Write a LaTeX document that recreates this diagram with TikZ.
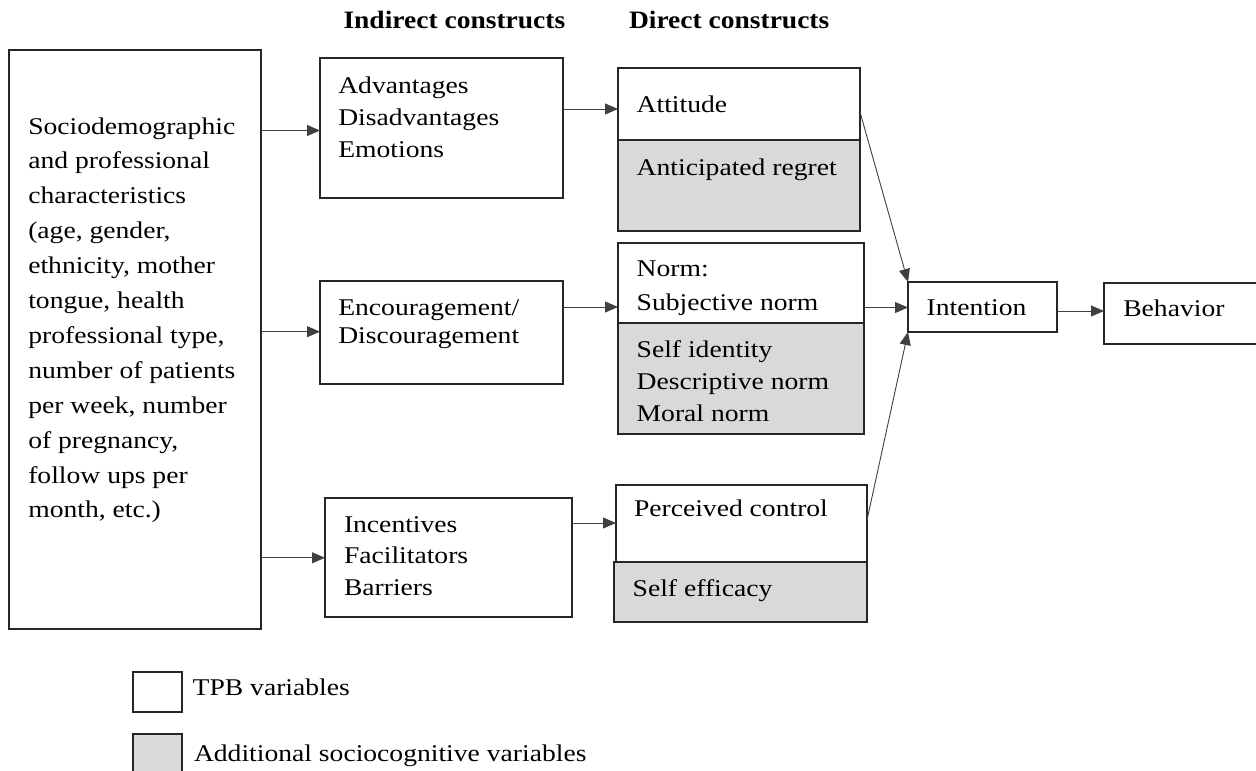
\documentclass[tikz,border=0pt]{standalone}
\usepackage{fontspec}
\setmainfont[FakeStretch=1.15]{Liberation Serif}
\newfontfamily\hdrfont[FakeStretch=1.1]{Liberation Serif}
\usetikzlibrary{arrows.meta}
\definecolor{boxgray}{HTML}{D9D9D9}
\tikzset{
  box/.style={draw=black!85, line width=1.5pt, inner sep=0pt, outer sep=0pt, anchor=north west},
  graybox/.style={box, fill=boxgray},
  txt/.style={inner sep=0pt, outer sep=0pt, align=left, anchor=north west},
  lbl/.style={inner sep=0pt, outer sep=0pt, anchor=base west},
  hdr/.style={lbl, font=\hdrfont\fontsize{25}{30}\selectfont\bfseries},
  arr/.style={draw=black!75, line width=0.9pt, -{Triangle[length=13pt,width=11pt]}},
}
\newcommand{\fs}[1]{\fontsize{24}{#1}\selectfont}
\begin{document}
\begin{tikzpicture}[x=1pt,y=-1pt,font=\fs{27.6}]
\path[use as bounding box] (0,0) rectangle (1256,771);
\clip (0,0) rectangle (1256,771);
% headers
\node[hdr] (h1) at (343.5,28) {Indirect constructs};
\node[hdr] (h2) at (629,28) {Direct constructs};
% boxes
\node[box, minimum width=252, minimum height=579] (socio) at (9,50) {};
\node[box, minimum width=243, minimum height=140] (adv) at (320,58) {};
\node[box, minimum width=243, minimum height=103] (enc) at (320,281) {};
\node[box, minimum width=247, minimum height=119] (inc) at (325,498) {};
\node[box, minimum width=242, minimum height=72] (att) at (618,68) {};
\node[graybox, minimum width=242, minimum height=91] (reg) at (618,140) {};
\node[box, minimum width=246, minimum height=80] (norm) at (618,243) {};
\node[graybox, minimum width=246, minimum height=111] (snorm) at (618,323) {};
\node[box, minimum width=251, minimum height=77] (pc) at (616,485) {};
\node[graybox, minimum width=253, minimum height=60] (se) at (614,562) {};
\node[box, minimum width=149, minimum height=50] (int) at (908,282) {};
\node[box, minimum width=158, minimum height=61] (beh) at (1104,283) {};
\node[box, minimum width=49, minimum height=40] (leg1) at (133,672) {};
\node[graybox, minimum width=49, minimum height=46] (leg2) at (133,734) {};
% texts
\node[txt,font=\fs{34.9}] (tsocio) at (28.3,109.6) {\strut Sociodemographic\\and professional\\characteristics\\(age, gender,\\ethnicity, mother\\tongue, health\\professional type,\\number of patients\\per week, number\\of pregnancy,\\follow ups per\\month, etc.)};
\node[txt,font=\fs{32}] (tadv) at (338.3,70.9) {\strut Advantages\\Disadvantages\\Emotions};
\node[txt,font=\fs{28.3}] (tenc) at (338.3,295.2) {\strut Encouragement/\\Discouragement};
\node[txt,font=\fs{31.2}] (tinc) at (344,510.9) {\strut Incentives\\Facilitators\\Barriers};
\node[lbl] (tatt) at (636.7,112) {Attitude};
\node[lbl] (treg) at (636.7,175) {Anticipated regret};
\node[txt,font=\fs{34}] (tnorm) at (636.7,252.9) {\strut Norm:\\Subjective norm};
\node[txt,font=\fs{31.85}] (tsnorm) at (636.7,335.7) {\strut Self identity\\Descriptive norm\\Moral norm};
\node[lbl] (tpc) at (634,516.7) {Perceived control};
\node[lbl] (tse) at (632.7,596) {Self efficacy};
\node[lbl] (tint) at (926.7,315) {Intention};
\node[lbl] (tbeh) at (1123.3,316) {Behavior};
\node[lbl] (tleg1) at (192.7,695) {TPB variables};
\node[lbl] (tleg2) at (194,761.7) {Additional sociocognitive variables};
% connectors
\draw[arr] (socio.east |- 0,130.5) -- (adv.west |- 0,130.5);
\draw[arr] (socio.east |- 0,331.7) -- (enc.west |- 0,331.7);
\draw[arr] (socio.east |- 0,557.8) -- (inc.west |- 0,557.8);
\draw[arr] (adv.east |- 0,109) -- (att.west |- 0,109);
\draw[arr] (enc.east |- 0,307) -- (norm.west |- 0,307);
\draw[arr] (inc.east |- 0,523) -- (pc.west |- 0,523);
\draw[arr] (att.east |- 0,112) -- (int.north west);
\draw[arr] (norm.east |- 0,307.5) -- (int.west |- 0,307.5);
\draw[arr] (pc.east |- 0,520) -- (int.south west);
\draw[arr] (int.east |- 0,311) -- (beh.west |- 0,311);
\end{tikzpicture}
\end{document}
